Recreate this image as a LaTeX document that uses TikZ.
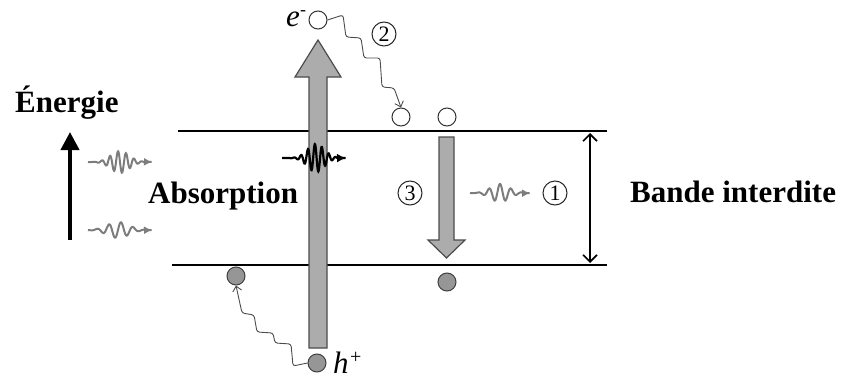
\documentclass[tikz,border=0pt]{standalone}
\usepackage{fontspec}
\setmainfont{Liberation Serif}
\usetikzlibrary{arrows.meta}
\definecolor{arrowgray}{RGB}{172,172,172}
\definecolor{dotgray}{RGB}{150,150,150}
\definecolor{wavegray}{RGB}{125,125,125}
\begin{document}
\begin{tikzpicture}[x=1pt,y=-1pt,
  lab/.style={font=\fontsize{31}{36}\selectfont\bfseries, inner sep=0pt, anchor=base west},
  num/.style={circle, draw=black!85, line width=1pt, minimum size=24pt, inner sep=0pt, font=\fontsize{22}{24}\selectfont},
  hole/.style={circle, draw=black!75, line width=1pt, fill=dotgray, minimum size=18pt, inner sep=0pt},
  elec/.style={circle, draw=black!80, line width=1pt, fill=white, minimum size=18pt, inner sep=0pt},
  bigarrow/.style={fill=arrowgray, draw=black!70, line width=1.2pt, line join=miter},
  band/.style={line width=2.8pt},
  bandthin/.style={line width=1.4pt},
  graywave/.style={draw=wavegray, line width=2pt, -{Latex[length=8pt,width=8pt]}},
  stair/.style={draw=black!70, line width=0.9pt, rounded corners=2.5pt, -{Straight Barb[length=5pt,width=9pt]}},
]
\useasboundingbox (0,0) rectangle (841,380);

% band lines
\coordinate (ctl) at (178,131);
\coordinate (ctm) at (472,131);
\coordinate (ctr) at (607,131);
\coordinate (cbl) at (172,265);
\coordinate (cbm) at (472,265);
\coordinate (cbr) at (607,265);
\draw[band] (ctl) -- (ctm);
\draw[bandthin] (ctm) -- (ctr);
\draw[band] (cbl) -- (cbm);
\draw[bandthin] (cbm) -- (cbr);

% big up arrow (absorption)
\draw[bigarrow] (309,348) -- (309,77) -- (295,77) -- (318,40) -- (341,77) -- (327,77) -- (327,348) -- cycle;

% big down arrow (recombination)
\draw[bigarrow] (439,137) -- (439,240) -- (428,240) -- (446.5,258) -- (465,240) -- (454,240) -- (454,137) -- cycle;

% particles
\node[elec] (e) at (318,20) {};
\node[elec] (c1) at (401,117) {};
\node[elec] (c2) at (447,117) {};
\node[hole] (h) at (317,363) {};
\node[hole] (v1) at (236,276) {};
\node[hole] (v2) at (447,282) {};

% labels
\node[font=\fontsize{31}{36}\selectfont\itshape, inner sep=0pt, anchor=base east] (elab) at (300,26) {e};
\node[font=\fontsize{18}{20}\selectfont, inner sep=0pt, anchor=base west] (eminus) at (elab.base east) [yshift=10pt] {-};
\node[font=\fontsize{31}{36}\selectfont\itshape, inner sep=0pt, anchor=base west] (hlab) at (333,373) {h};
\node[font=\fontsize{20}{22}\selectfont, inner sep=0pt, anchor=base west] (hplus) at (hlab.base east) [yshift=10pt, xshift=1pt] {+};

\node[lab] (en) at (15,112) {Énergie};
\node[lab] (abs) at (148,203) {Absorption};
\node[lab] (bi) at (630,202) {Bande interdite};

\node[num] (n2) at (384,34) {2};
\node[num] (n3) at (410,193) {3};
\node[num] (n1) at (555,193) {1};

% energy axis
\coordinate (ea) at (70,240);
\coordinate (eb) at (70,132);
\draw[line width=4pt, -{Triangle[length=18pt,width=18pt]}] (ea) -- (eb);

% band gap double arrow
\coordinate (ga) at (590,133);
\coordinate (gb) at (590,263);
\draw[line width=1.6pt, {Straight Barb[length=7pt,width=14pt]}-{Straight Barb[length=7pt,width=14pt]}] (ga) -- (gb);

% photon wave packets
\coordinate (w1) at (88,162);
\coordinate (w2) at (88,230);
\coordinate (w3) at (470,193);
\coordinate (w4) at (282,158);
\begin{scope}[shift={(w1)}]
\draw[graywave] plot[domain=0:64, samples=160, smooth] (\x, {11*exp(-((\x-32)/13)^2)*sin(45*\x)});
\end{scope}
\begin{scope}[shift={(w2)}]
\draw[graywave] plot[domain=0:64, samples=160, smooth] (\x, {8*exp(-((\x-30)/15)^2)*sin(30*\x)});
\end{scope}
\begin{scope}[shift={(w3)}]
\draw[graywave] plot[domain=0:60, samples=160, smooth] (\x, {9*exp(-((\x-30)/13)^2)*sin(33*\x)});
\end{scope}
\begin{scope}[shift={(w4)}]
\draw[line width=2.2pt, -{Latex[length=9pt,width=9pt]}] plot[domain=0:64, samples=200, smooth] (\x, {14*exp(-((\x-34)/12)^2)*sin(52*\x)});
\end{scope}

% relaxation staircases
\draw[stair] (e.east) -- (343,15) -- (346,37) -- (361,38) -- (364,58) -- (380,58) -- (382,87) -- (394,88) -- (c1.north);
\draw[stair] (h.west) -- (293,366) -- (291,344) -- (275,343) -- (273,333) -- (257,332) -- (254,315) -- (242,313) -- (v1.south);
\end{tikzpicture}
\end{document}
